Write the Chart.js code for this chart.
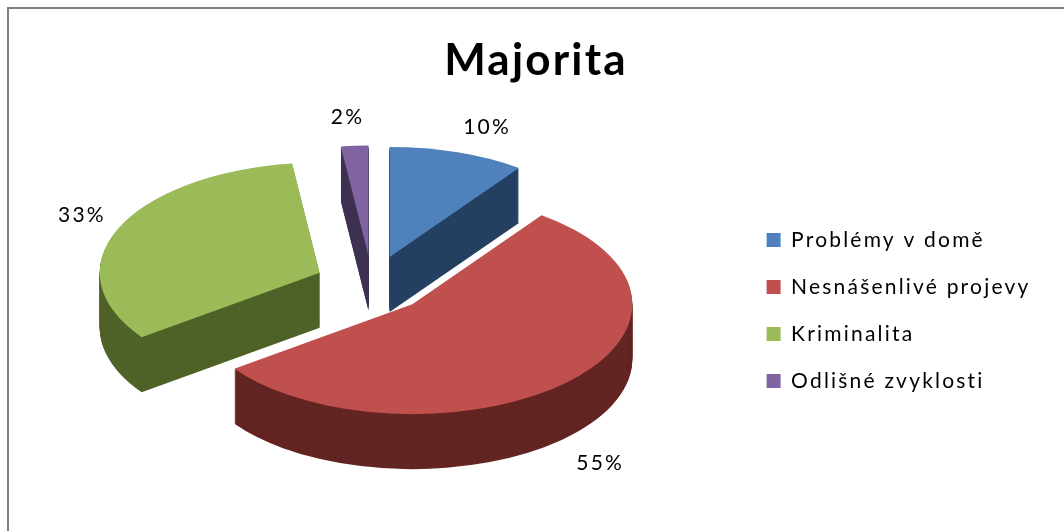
<!DOCTYPE html>
<html>
<head>
<meta charset="utf-8">
<title>Majorita</title>
<script src="https://cdn.jsdelivr.net/npm/chart.js@4/dist/chart.umd.min.js"></script>
<style>
    html, body { margin: 0; background: #fff; overflow: hidden; }
    canvas { position: absolute; left: 0; top: 0; }
    #frame { position: absolute; left: 7px; top: 7px; right: 0; bottom: 0; border-top: 2px solid #808080; border-left: 2px solid #808080; }
</style>
</head>
<body>
<div id="frame"></div>
<canvas id="chart" width="1064" height="531"></canvas>
<script>
const title = 'Majorita';
const categories = ['Problémy v domě', 'Nesnášenlivé projevy', 'Kriminalita', 'Odlišné zvyklosti'];
const values = [10, 55, 33, 2];
const colors = ['#4F81BD', '#C0504D', '#9BBB59', '#8064A2'];
const sideColors = ['#254061', '#632523', '#4F6228', '#3F3151'];

// the 3d look: chart.js has no 3d pie so the arcs get squashed and extruded
const pieCenter = { x: 372, y: 284 };
const tilt = 0.5;
const depth = 55;
const explode = 57;
const labelGap = 50;
const labelShift = [[14, -1], [-3, 9], [10, -4], [-4, -4]];
const spacing = '2.2px';

function slicePath(ctx, arc, dx, dy) {
    const mid = (arc.startAngle + arc.endAngle) / 2;
    const x = arc.x + Math.cos(mid) * explode + dx;
    const y = arc.y + Math.sin(mid) * explode + dy;
    ctx.beginPath();
    ctx.moveTo(x, y);
    ctx.arc(x, y, arc.outerRadius, arc.startAngle, arc.endAngle);
    ctx.closePath();
}

const pie3d = {
    id: 'pie3d',
    beforeLayout(chart) {
        chart.ctx.letterSpacing = spacing;
    },
    afterLayout(chart) {
        // legend and title sit where the office chart had them, not where chart.js centres them
        chart.legend.left -= 23.5;
        chart.legend.right -= 23.5;
        chart.legend.top += 45;
        chart.legend.bottom += 45;
        chart.titleBlock.left += 4;
        chart.titleBlock.right += 4;
    },
    beforeDraw(chart) {
        chart.ctx.letterSpacing = spacing;
    },
    beforeDatasetDraw(chart) {
        const ctx = chart.ctx;
        const arcs = chart.getDatasetMeta(0).data;
        const cy = arcs[0].y;
        const cx = arcs[0].x;
        ctx.save();
        ctx.translate(pieCenter.x - cx, pieCenter.y - cy * tilt);
        ctx.scale(1, tilt);
        // back to front: sides first
        [3, 2, 0, 1].forEach(i => {
            ctx.fillStyle = sideColors[i];
            for (let d = depth; d > 0; d--) {
                slicePath(ctx, arcs[i], 0, d / tilt);
                ctx.fill();
            }
        });
        arcs.forEach(arc => {
            const mid = (arc.startAngle + arc.endAngle) / 2;
            ctx.save();
            ctx.translate(Math.cos(mid) * explode, Math.sin(mid) * explode);
            arc.draw(ctx);
            ctx.restore();
        });
        ctx.restore();

        ctx.save();
        ctx.fillStyle = '#000';
        ctx.font = '21px Lato';
        ctx.textAlign = 'center';
        ctx.textBaseline = 'middle';
        arcs.forEach((arc, i) => {
            const mid = (arc.startAngle + arc.endAngle) / 2;
            const r = arc.outerRadius + labelGap + explode;
            const x = pieCenter.x + Math.cos(mid) * r + labelShift[i][0];
            const below = Math.sin(mid) > 0 ? depth : 0;
            const y = pieCenter.y + Math.sin(mid) * r * tilt + below + labelShift[i][1];
            ctx.fillText(values[i] + '%', x, y);
        });
        ctx.restore();
        return false;
    }
};

new Chart(document.getElementById('chart'), {
    type: 'pie',
    data: {
        labels: categories,
        datasets: [{
            data: values,
            backgroundColor: colors,
            borderWidth: 0,
            radius: 220
        }]
    },
    options: {
        responsive: false,
        animation: false,
        plugins: {
            tooltip: { enabled: false },
            title: {
                display: true,
                text: title,
                color: '#000',
                font: { family: 'Lato', size: 44, weight: 'bold' },
                padding: { top: 34, bottom: 10 }
            },
            legend: {
                position: 'right',
                labels: {
                    color: '#000',
                    font: { family: 'Lato', size: 21 },
                    boxWidth: 14,
                    boxHeight: 14,
                    padding: 26
                }
            }
        }
    },
    plugins: [pie3d]
});
</script>
</body>
</html>
